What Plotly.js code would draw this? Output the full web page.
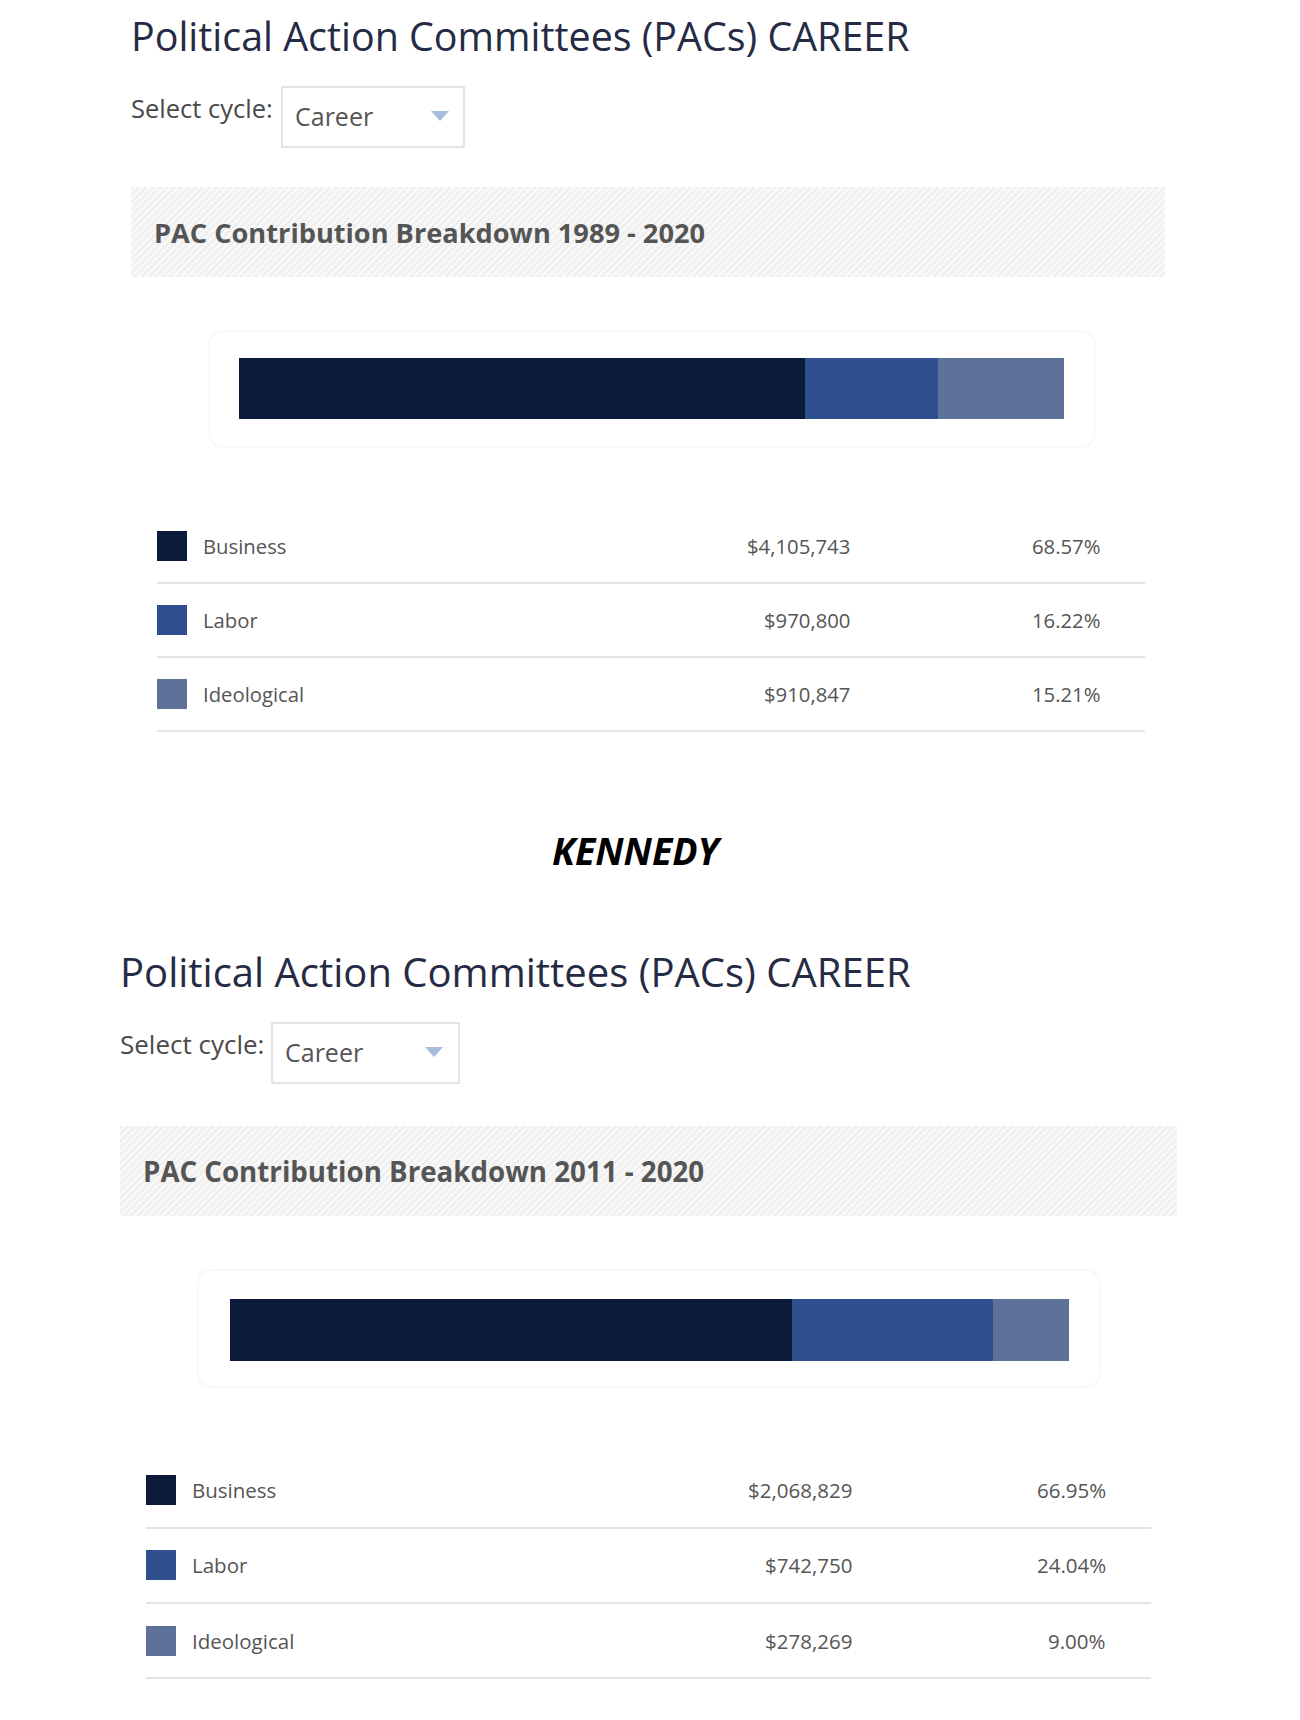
<!DOCTYPE html>
<html>
<head>
<meta charset="utf-8">
<script src="https://cdn.plot.ly/plotly-3.0.1.min.js"></script>
<style>
  html, body { margin: 0; padding: 0; background: #ffffff; }
  #chart { width: 1300px; height: 1720px; }
</style>
</head>
<body>
<div id="chart"></div>
<script>
// ---------------- DATA ----------------
const categories = ['Business', 'Labor', 'Ideological'];
const colors = ['#0b1a38', '#2f4f8e', '#5d7199'];

const pageTitle = 'Political Action Committees (PACs) CAREER';
const selectLabel = 'Select cycle:';
const selectValue = 'Career';
const personName = 'KENNEDY';

const breakdown1Title = 'PAC Contribution Breakdown 1989 - 2020';
const breakdown1Values = [4105743, 970800, 910847];
const breakdown1Pcts = ['68.57%', '16.22%', '15.21%'];

const breakdown2Title = 'PAC Contribution Breakdown 2011 - 2020';
const breakdown2Values = [2068829, 742750, 278269];
const breakdown2Pcts = ['66.95%', '24.04%', '9.00%'];

// ---------------- LAYOUT HELPERS ----------------
const W = 1300, H = 1720;
const px = x => x / W;
const py = y => 1 - y / H;
const FONT = 'Open Sans, Noto Sans, sans-serif';

const hatchSvg = (w, h) => {
  const s = `<svg xmlns="http://www.w3.org/2000/svg" width="${w}" height="${h}">` +
    `<defs><pattern id="p" width="5" height="5" patternUnits="userSpaceOnUse" patternTransform="rotate(45)">` +
    `<rect width="5" height="5" fill="#f8f8f8"/><rect width="2" height="5" fill="#eeeeee"/></pattern></defs>` +
    `<rect width="${w}" height="${h}" fill="url(#p)"/></svg>`;
  return 'data:image/svg+xml;charset=utf-8,' + encodeURIComponent(s);
};

const fmtMoney = v => '$' + v.toLocaleString('en-US');

const traces = [];
const annotations = [];
const shapes = [];
const images = [];

function ann(x, y, text, xanchor, font) {
  annotations.push({
    xref: 'paper', yref: 'paper', x: px(x), y: py(y),
    xanchor: xanchor, yanchor: 'middle', showarrow: false,
    borderpad: 0, borderwidth: 0, text: text, font: font
  });
}

function roundRect(x0, y0, x1, y1, r) {
  const X0 = px(x0), X1 = px(x1), Y0 = py(y0), Y1 = py(y1);
  const rx = r / W, ry = r / H;
  return `M ${X0 + rx} ${Y0} L ${X1 - rx} ${Y0} Q ${X1} ${Y0} ${X1} ${Y0 - ry} ` +
    `L ${X1} ${Y1 + ry} Q ${X1} ${Y1} ${X1 - rx} ${Y1} L ${X0 + rx} ${Y1} ` +
    `Q ${X0} ${Y1} ${X0} ${Y1 + ry} L ${X0} ${Y0 - ry} Q ${X0} ${Y0} ${X0 + rx} ${Y0} Z`;
}

function addSection(cfg, idx) {
  const axSuffix = idx === 1 ? '' : String(idx);
  ann(cfg.left, cfg.titleY, pageTitle, 'left', { family: FONT, size: cfg.titleSize, color: '#262b45' });
  ann(cfg.left, cfg.selectY, selectLabel, 'left', { family: FONT, size: cfg.selectSize, color: '#4a4a4a' });
  // Dropdown box
  shapes.push({
    type: 'rect', xref: 'paper', yref: 'paper',
    x0: px(cfg.dd[0]), x1: px(cfg.dd[1]), y0: py(cfg.dd[2]), y1: py(cfg.dd[3]),
    line: { color: '#d6dce5', width: 1.5 }, fillcolor: '#ffffff'
  });
  ann(cfg.dd[0] + 13, cfg.ddTextY, selectValue, 'left', { family: FONT, size: 25, color: '#555555' });
  const ax = cfg.arrowX, ay = cfg.ddTextY;
  shapes.push({
    type: 'path', xref: 'paper', yref: 'paper',
    path: `M ${px(ax - 9)} ${py(ay - 5)} L ${px(ax + 9)} ${py(ay - 5)} L ${px(ax)} ${py(ay + 5)} Z`,
    fillcolor: '#a9bcdc', line: { width: 0 }
  });
  // Banner
  images.push({
    source: hatchSvg(cfg.banner[1] - cfg.banner[0], cfg.banner[3] - cfg.banner[2]),
    xref: 'paper', yref: 'paper', x: px(cfg.banner[0]), y: py(cfg.banner[2]),
    sizex: (cfg.banner[1] - cfg.banner[0]) / W, sizey: (cfg.banner[3] - cfg.banner[2]) / H,
    xanchor: 'left', yanchor: 'top', sizing: 'stretch', layer: 'below'
  });
  ann(cfg.bannerTextX, cfg.bannerTextY, '<b>' + cfg.title + '</b>', 'left',
      { family: FONT, size: cfg.bannerSize, color: '#555555' });
  // Soft card behind the bar
  shapes.push({
    type: 'path', xref: 'paper', yref: 'paper', layer: 'below',
    path: roundRect(cfg.card[0], cfg.card[2], cfg.card[1], cfg.card[3], 16),
    line: { color: '#f8f8f8', width: 2 }, fillcolor: 'rgba(255,255,255,0)'
  });
  // Stacked bar
  const total = cfg.values.reduce((a, b) => a + b, 0);
  categories.forEach((c, i) => {
    traces.push({
      type: 'bar', orientation: 'h', name: c,
      x: [cfg.values[i]], y: [0], width: 1,
      marker: { color: colors[i], line: { width: 0 } },
      xaxis: 'x' + axSuffix, yaxis: 'y' + axSuffix,
      hoverinfo: 'skip', showlegend: false
    });
  });
  cfg.total = total;
  // Legend table
  categories.forEach((c, i) => {
    const ry = cfg.rowY[i];
    shapes.push({
      type: 'rect', xref: 'paper', yref: 'paper',
      x0: px(cfg.sqX), x1: px(cfg.sqX + 30), y0: py(ry - 15), y1: py(ry + 15),
      fillcolor: colors[i], line: { width: 0 }
    });
    const f = { family: FONT, size: cfg.rowSize, color: '#555555' };
    ann(cfg.labelX, ry, c, 'left', f);
    ann(cfg.valX, ry, fmtMoney(cfg.values[i]), 'right', f);
    ann(cfg.pctX, ry, cfg.pcts[i], 'right', f);
    shapes.push({
      type: 'line', xref: 'paper', yref: 'paper',
      x0: px(cfg.sqX), x1: px(cfg.sepR), y0: py(cfg.sepY[i]), y1: py(cfg.sepY[i]),
      line: { color: '#e4e4e4', width: 2 }
    });
  });
}

const sec1 = {
  title: breakdown1Title, values: breakdown1Values, pcts: breakdown1Pcts,
  titleSize: 39.4, selectSize: 25.5, bannerSize: 27.2, rowSize: 20.3,
  left: 131, titleY: 36.5, selectY: 108, dd: [282, 464, 87, 147], ddTextY: 116, arrowX: 440,
  banner: [131, 1165, 187, 277], bannerTextX: 154, bannerTextY: 232,
  card: [209, 1095, 331, 447], bar: [239, 1064, 358, 419],
  sqX: 157, labelX: 203, valX: 850, pctX: 1100, sepR: 1145,
  rowY: [546, 620, 694], sepY: [583, 657, 731]
};
const sec2 = {
  title: breakdown2Title, values: breakdown2Values, pcts: breakdown2Pcts,
  titleSize: 40, selectSize: 26, bannerSize: 27.7, rowSize: 20.5,
  left: 120, titleY: 971.5, selectY: 1044, dd: [272, 459, 1023, 1083], ddTextY: 1052, arrowX: 434,
  banner: [120, 1177, 1126, 1216], bannerTextX: 143, bannerTextY: 1171,
  card: [198, 1100, 1270, 1387], bar: [230, 1069, 1299, 1361],
  sqX: 146, labelX: 192, valX: 852, pctX: 1106, sepR: 1151,
  rowY: [1490, 1565, 1641], sepY: [1528, 1603, 1678]
};
addSection(sec1, 1);
addSection(sec2, 2);

ann(637, 850, '<b><i>' + personName + '</i></b>', 'center', { family: FONT, size: 37.5, color: '#000000' });

const axisCommon = { visible: false, showgrid: false, zeroline: false, fixedrange: true };
const layout = {
  width: W, height: H, autosize: false,
  margin: { l: 0, r: 0, t: 0, b: 0, pad: 0 },
  paper_bgcolor: '#ffffff', plot_bgcolor: 'rgba(0,0,0,0)',
  barmode: 'stack', bargap: 0, showlegend: false,
  xaxis: Object.assign({}, axisCommon, { domain: [px(sec1.bar[0]), px(sec1.bar[1])], range: [0, sec1.total], anchor: 'y' }),
  yaxis: Object.assign({}, axisCommon, { domain: [py(sec1.bar[3]), py(sec1.bar[2])], range: [-0.5, 0.5], anchor: 'x' }),
  xaxis2: Object.assign({}, axisCommon, { domain: [px(sec2.bar[0]), px(sec2.bar[1])], range: [0, sec2.total], anchor: 'y2' }),
  yaxis2: Object.assign({}, axisCommon, { domain: [py(sec2.bar[3]), py(sec2.bar[2])], range: [-0.5, 0.5], anchor: 'x2' }),
  annotations: annotations, shapes: shapes, images: images,
  font: { family: FONT }
};

Plotly.newPlot('chart', traces, layout, { staticPlot: true, displayModeBar: false });
</script>
</body>
</html>
